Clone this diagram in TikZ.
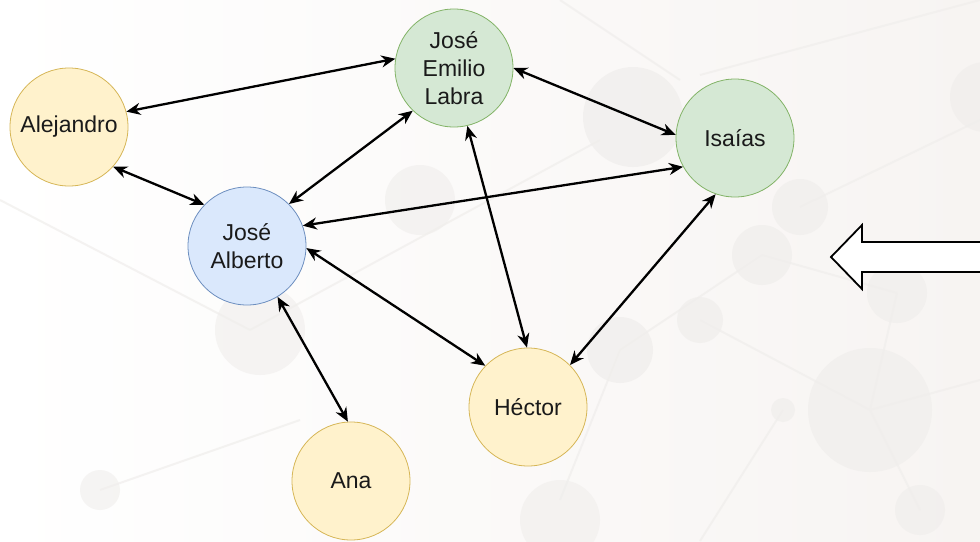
\documentclass[tikz,border=0pt]{standalone}
\usepackage{fontspec}
\setmainfont{Liberation Sans}
\usetikzlibrary{arrows.meta}
\definecolor{yfill}{HTML}{FFF2CC}
\definecolor{ydraw}{HTML}{D6B656}
\definecolor{gfill}{HTML}{D5E8D4}
\definecolor{gdraw}{HTML}{82B366}
\definecolor{bfill}{HTML}{DAE8FC}
\definecolor{bdraw}{HTML}{6C8EBF}
\definecolor{bgright}{HTML}{F7F4F2}
\definecolor{bgcirc}{HTML}{F0EEEC}
\definecolor{bgline}{HTML}{F0EEEC}
\definecolor{txt}{HTML}{1A1A1A}
\tikzset{
  person/.style={circle, minimum size=118pt, inner sep=0pt, line width=0.8pt,
    align=center, text=txt, font=\fontsize{23}{28}\selectfont},
  yel/.style={person, fill=yfill, draw=ydraw},
  grn/.style={person, fill=gfill, draw=gdraw},
  blu/.style={person, fill=bfill, draw=bdraw},
  link/.style={line width=2.3pt, black,
    {Stealth[length=14pt,width=12pt,inset=4.5pt]}-{Stealth[length=14pt,width=12pt,inset=4.5pt]}},
  bgc/.style={fill=bgcirc, draw=none},
  bgl/.style={draw=bgline, line width=2pt}
}
\begin{document}
\begin{tikzpicture}[x=1pt,y=-1pt]
\useasboundingbox (0,0) rectangle (980,541);
\clip (0,0) rectangle (980,541);
\shade[left color=white, right color=bgright] (0,0) rectangle (980,541);
% faint background network
\begin{scope}[opacity=0.7]
\draw[bgl] (560,0) -- (680,80);
\draw[bgl] (700,75) -- (980,0);
\draw[bgl] (800,207) -- (980,120);
\draw[bgl] (762,255) -- (897,293);
\draw[bgl] (700,320) -- (870,410);
\draw[bgl] (620,350) -- (762,255);
\draw[bgl] (870,410) -- (920,510);
\draw[bgl] (783,410) -- (700,541);
\draw[bgl] (897,293) -- (870,410);
\draw[bgl] (870,410) -- (980,380);
\draw[bgl] (250,330) -- (600,140);
\draw[bgl] (0,200) -- (250,330);
\draw[bgl] (100,490) -- (300,420);
\draw[bgl] (560,500) -- (620,350);
\fill[bgc] (633,117) circle (50);
\fill[bgc] (800,207) circle (28);
\fill[bgc] (762,255) circle (30);
\fill[bgc] (897,293) circle (30);
\fill[bgc] (700,320) circle (23);
\fill[bgc] (870,410) circle (62);
\fill[bgc] (620,350) circle (33);
\fill[bgc] (783,410) circle (12);
\fill[bgc] (920,510) circle (25);
\fill[bgc] (985,97) circle (35);
\fill[bgc, opacity=0.6] (260,330) circle (45);
\fill[bgc, opacity=0.6] (420,200) circle (35);
\fill[bgc, opacity=0.6] (100,490) circle (20);
\fill[bgc, opacity=0.6] (560,520) circle (40);
\end{scope}
% people
\node[yel] (ale) at (69,127) {Alejandro};
\node[grn] (lab) at (454,68) {José\\Emilio\\Labra};
\node[grn] (isa) at (735,138) {Isaías};
\node[blu] (alb) at (247,246) {José\\Alberto};
\node[yel] (hec) at (528,407) {Héctor};
\node[yel] (ana) at (351,481) {Ana};
% links
\draw[link] (ale.15) -- (lab.171);
\draw[link] (ale.-42) -- (alb.136);
\draw[link] (alb.45) -- (lab.-134);
\draw[link] (alb.20) -- (isa.-151);
\draw[link] (alb.-2) -- (hec.136);
\draw[link] (alb.-59) -- (ana.93);
\draw[link] (lab.-77) -- (hec.91);
\draw[link] (lab.0) -- (isa.177);
\draw[link] (isa.-109) -- (hec.45);
% big outline arrow
\draw[line width=1.8pt, fill=white, line join=miter]
  (990,242) -- (862,242) -- (862,225) -- (831,257) -- (862,289) -- (862,272) -- (990,272) -- cycle;
\end{tikzpicture}
\end{document}
